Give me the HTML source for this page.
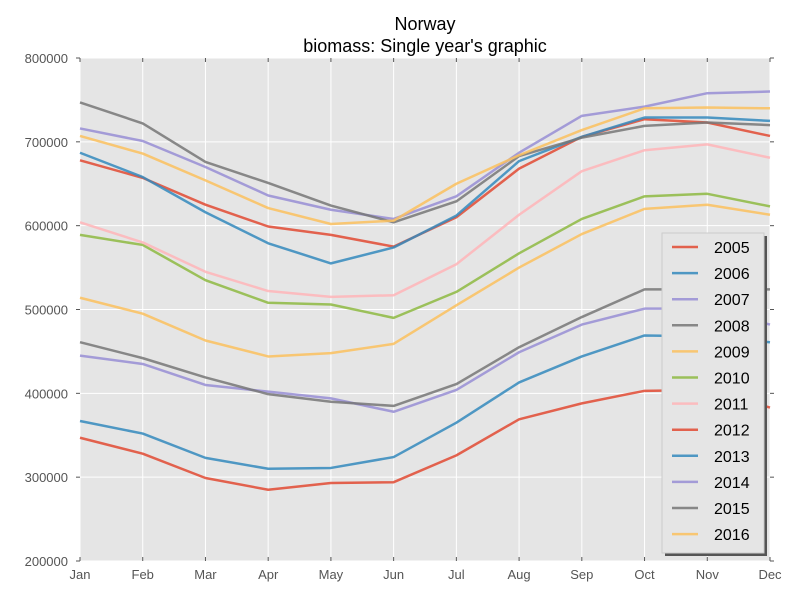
<!DOCTYPE html>
<html><head><meta charset="utf-8"><style>
body{margin:0;background:#fff;}
svg text{font-family:"Liberation Sans","DejaVu Sans",sans-serif;}
</style></head><body>
<svg id="chart" width="800" height="600">
<text x="425" y="30" text-anchor="middle" font-size="18">Norway</text>
<text x="425" y="52" text-anchor="middle" font-size="18">biomass: Single year's graphic</text>
<rect x="80" y="58" width="690" height="503" fill="#e5e5e5"/>
<g id="grid"></g><g id="lines"></g><g id="axes"></g><g id="legend"></g>
</svg>
<script>
const months=["Jan","Feb","Mar","Apr","May","Jun","Jul","Aug","Sep","Oct","Nov","Dec"];
const years=["2005","2006","2007","2008","2009","2010","2011","2012","2013","2014","2015","2016"];
const yTicks=[200000,300000,400000,500000,600000,700000,800000];
const s2005=[678,657,625,599,589,575,610,668,706,727,723,707];
const s2006=[687,658,616,579,555,574,612,677,706,729,729,725];
const s2007=[716,701,670,636,619,608,635,687,731,742,758,760];
const s2008=[747,722,676,651,624,604,629,683,705,719,723,720];
const s2009=[707,686,654,621,602,606,650,684,714,740,741,740];
const s2010=[589,577,535,508,506,490,521,567,608,635,638,623];
const s2011=[604,580,545,522,515,517,554,613,665,690,697,681];
const s2012=[347,328,299,285,293,294,326,369,388,403,404,383];
const s2013=[367,352,323,310,311,324,365,413,444,469,468,461];
const s2014=[445,435,410,402,394,378,404,449,482,501,501,482];
const s2015=[461,442,419,399,390,385,411,455,491,524,524,524];
const s2016=[514,495,463,444,448,459,505,550,590,620,625,613];
const series=[s2005,s2006,s2007,s2008,s2009,s2010,s2011,s2012,s2013,s2014,s2015,s2016];
const colors=["#E24A33","#348ABD","#988ED5","#777777","#FBC15E","#8EBA42","#FFB5B8"];
const NS="http://www.w3.org/2000/svg";
const X0=80,X1=770,Y0=561,Y1=58,ymin=200000,ymax=800000;
const xs=i=>X0+i*(X1-X0)/(months.length-1);
const ys=v=>Y0-(v-ymin)/(ymax-ymin)*(Y0-Y1);
function mk(t,a,p){const e=document.createElementNS(NS,t);for(const k in a)e.setAttribute(k,a[k]);p.appendChild(e);return e;}
const grid=document.getElementById('grid'),axes=document.getElementById('axes');
months.forEach((m,i)=>{
 const g=mk('line',{x1:xs(i),x2:xs(i),y1:Y1,y2:Y0,stroke:'#fff','stroke-width':1},grid);
 
 
 mk('line',{x1:xs(i),x2:xs(i),y1:Y0,y2:Y0-4,stroke:'#555'},axes);
 mk('line',{x1:xs(i),x2:xs(i),y1:Y1,y2:Y1+4,stroke:'#555'},axes);
 const t=mk('text',{x:xs(i),y:Y0+18,'text-anchor':'middle','font-size':13,fill:'#555'},axes);
 t.textContent=m;
 
 
});
yTicks.forEach(v=>{
 const g=mk('line',{x1:X0,x2:X1,y1:ys(v),y2:ys(v),stroke:'#fff','stroke-width':1},grid);
 
 
 mk('line',{x1:X0-4,x2:X0,y1:ys(v),y2:ys(v),stroke:'#555'},axes);
 mk('line',{x1:X1,x2:X1+4,y1:ys(v),y2:ys(v),stroke:'#555'},axes);
 const t=mk('text',{x:X0-12,y:ys(v)+5,'text-anchor':'end','font-size':13,fill:'#555'},axes);
 t.textContent=v;
 
 
});
const lines=document.getElementById('lines');
series.forEach((s,k)=>{
 const p=mk('polyline',{points:s.map((v,i)=>xs(i)+','+ys(v*1000)).join(' '),fill:'none',stroke:colors[k%7],'stroke-width':2.5,'stroke-opacity':0.85,'stroke-linejoin':'round'},lines);
 
 
});
const lg=document.getElementById('legend');
mk('rect',{x:665,y:236,width:102,height:320,fill:'#555'},lg);
const box=mk('rect',{x:662,y:233,width:102,height:320,fill:'#e5e5e5',stroke:'#ccc'},lg);


years.forEach((y,k)=>{
 const cy=247+k*26.1;
 mk('line',{x1:672,x2:698,y1:cy,y2:cy,stroke:colors[k%7],'stroke-width':2.5,'stroke-opacity':0.85},lg);
 const t=mk('text',{x:714,y:cy+6,'font-size':16,fill:'#000'},lg);
 t.textContent=y;
 
 
});
</script>
</body></html>
